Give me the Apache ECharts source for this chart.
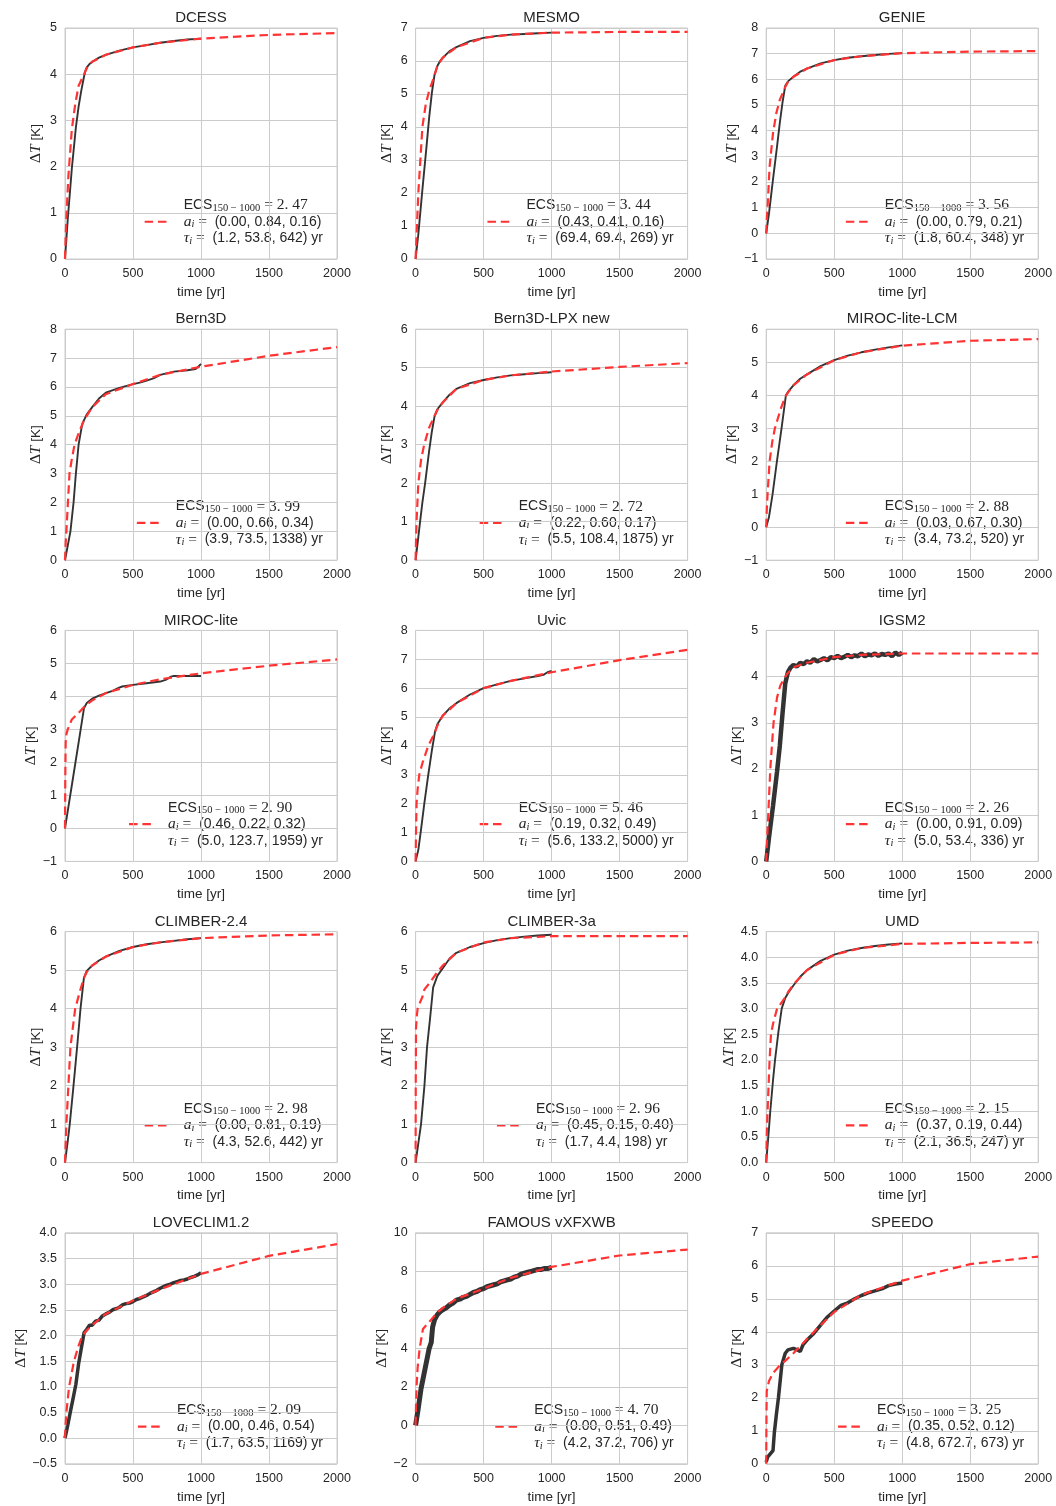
<!DOCTYPE html>
<html>
<head>
<meta charset="utf-8">
<script src="https://cdn.jsdelivr.net/npm/echarts@6/dist/echarts.min.js"></script>
<style>
  html, body { margin: 0; padding: 0; background: #fff; }
  #chart { width: 1056px; height: 1506px; }
</style>
</head>
<body>
<div id="chart"></div>
<script>
// panel titles and axis ranges
const titles = ['DCESS', 'MESMO', 'GENIE', 'Bern3D', 'Bern3D-LPX new', 'MIROC-lite-LCM',
  'MIROC-lite', 'Uvic', 'IGSM2', 'CLIMBER-2.4', 'CLIMBER-3a', 'UMD',
  'LOVECLIM1.2', 'FAMOUS vXFXWB', 'SPEEDO'];
const yMin = [0, 0, -1, 0, 0, -1, -1, 0, 0, 0, 0, 0, -0.5, -2, 0];
const yMax = [5, 7, 8, 8, 6, 6, 6, 8, 5, 6, 6, 4.5, 4, 10, 7];
const yStep = [1, 1, 1, 1, 1, 1, 1, 1, 1, 1, 1, 0.5, 0.5, 2, 1];
const xTicks = [0, 2000, 500];

// legend texts
const ecsText = ['2. 47', '3. 44', '3. 56', '3. 99', '2. 72', '2. 88', '2. 90', '5. 46',
  '2. 26', '2. 98', '2. 96', '2. 15', '2. 09', '4. 70', '3. 25'];
const aText = ['(0.00, 0.84, 0.16)', '(0.43, 0.41, 0.16)', '(0.00, 0.79, 0.21)', '(0.00, 0.66, 0.34)',
  '(0.22, 0.60, 0.17)', '(0.03, 0.67, 0.30)', '(0.46, 0.22, 0.32)', '(0.19, 0.32, 0.49)',
  '(0.00, 0.91, 0.09)', '(0.00, 0.81, 0.19)', '(0.45, 0.15, 0.40)', '(0.37, 0.19, 0.44)',
  '(0.00, 0.46, 0.54)', '(0.00, 0.51, 0.49)', '(0.35, 0.52, 0.12)'];
const tauText = ['(1.2, 53.8, 642) yr', '(69.4, 69.4, 269) yr', '(1.8, 60.4, 348) yr', '(3.9, 73.5, 1338) yr',
  '(5.5, 108.4, 1875) yr', '(3.4, 73.2, 520) yr', '(5.0, 123.7, 1959) yr', '(5.6, 133.2, 5000) yr',
  '(5.0, 53.4, 336) yr', '(4.3, 52.6, 442) yr', '(1.7, 4.4, 198) yr', '(2.1, 36.5, 247) yr',
  '(1.7, 63.5, 1169) yr', '(4.2, 37.2, 706) yr', '(4.8, 672.7, 673) yr'];

// model output [yr, K] (black) and fitted response (red dashed)
const dcessModel = [[0,0],[20,0.85],[50,1.95],[80,2.85],[100,3.3],[120,3.65],[140,3.95],[150,4.08],[160,4.15],[180,4.22],[200,4.27],[250,4.36],[300,4.42],[400,4.51],[500,4.58],[600,4.63],[700,4.68],[800,4.72],[900,4.75],[1000,4.77]];
const dcessFit = [[0,0],[5,0.5],[10,0.9],[25,1.8],[50,2.8],[75,3.35],[100,3.75],[140,4.0],[160,4.13],[200,4.27],[300,4.42],[500,4.58],[700,4.68],[1000,4.77],[1500,4.85],[2000,4.89]];

const mesmoModel = [[0,0],[20,0.75],[50,2.1],[80,3.4],[100,4.3],[120,5.05],[140,5.6],[160,5.85],[180,6.0],[200,6.1],[250,6.3],[300,6.42],[400,6.6],[500,6.7],[600,6.76],[700,6.8],[800,6.82],[900,6.84],[1000,6.86]];
const mesmoFit = [[0,0],[5,0.5],[10,1.0],[20,2.0],[35,3.0],[50,4.0],[75,4.7],[100,5.1],[130,5.45],[160,5.85],[200,6.1],[300,6.42],[500,6.7],[700,6.8],[1000,6.86],[1500,6.88],[2000,6.88]];

const genieModel = [[0,0],[20,0.75],[50,2.1],[80,3.4],[100,4.3],[120,5.1],[140,5.75],[160,5.92],[200,6.1],[250,6.3],[300,6.42],[400,6.62],[500,6.75],[600,6.84],[700,6.9],[800,6.95],[900,6.99],[1000,7.02]];
const genieFit = [[0,0],[5,0.6],[10,1.0],[25,2.6],[50,3.9],[75,4.7],[100,5.2],[140,5.7],[160,5.9],[200,6.1],[300,6.42],[500,6.75],[700,6.9],[1000,7.02],[1500,7.08],[2000,7.1]];

const bern3dModel = [[0,0],[20,0.5],[40,1.0],[63,2.0],[80,3.0],[100,4.0],[126,4.7],[140,4.85],[160,5.05],[200,5.3],[250,5.6],[300,5.8],[400,5.97],[500,6.1],[550,6.15],[600,6.22],[650,6.3],[700,6.42],[800,6.53],[900,6.58],[960,6.62],[980,6.7],[1000,6.8]];
const bern3dFit = [[0,0],[5,0.6],[10,1.0],[25,2.3],[33,3.0],[50,3.5],[70,4.0],[100,4.4],[140,4.85],[160,5.0],[200,5.3],[300,5.75],[500,6.1],[700,6.42],[1000,6.7],[1500,7.08],[2000,7.38]];

const bernLpxModel = [[0,0],[20,0.6],[33,1.0],[50,1.5],[70,2.0],[100,2.85],[120,3.35],[140,3.75],[160,3.92],[200,4.1],[250,4.3],[300,4.45],[400,4.6],[500,4.68],[600,4.75],[700,4.8],[800,4.83],[900,4.86],[1000,4.88]];
const bernLpxFit = [[0,0],[3,0.5],[7,1.0],[20,2.0],[40,2.6],[63,3.0],[100,3.45],[140,3.75],[160,3.9],[200,4.1],[300,4.45],[500,4.68],[700,4.8],[1000,4.9],[1500,5.02],[2000,5.12]];

const mirocLcmModel = [[0,0],[20,0.3],[47,1.0],[79,2.0],[113,3.0],[145,4.0],[160,4.1],[200,4.3],[250,4.5],[300,4.63],[400,4.88],[500,5.06],[600,5.2],[700,5.3],[800,5.38],[900,5.45],[1000,5.51]];
const mirocLcmFit = [[0,0],[5,0.6],[10,1.0],[25,2.0],[45,2.6],[64,3.0],[108,3.6],[140,3.95],[160,4.08],[200,4.3],[300,4.63],[500,5.06],[700,5.3],[1000,5.5],[1500,5.65],[2000,5.7]];

const mirocModel = [[0,0],[50,1.3],[100,2.6],[140,3.65],[160,3.8],[200,3.93],[250,4.02],[300,4.1],[350,4.17],[390,4.25],[420,4.3],[500,4.35],[600,4.4],[700,4.45],[740,4.5],[780,4.6],[800,4.62],[900,4.62],[1000,4.62]];
const mirocFit = [[0,0],[2,1.5],[5,2.6],[10,2.85],[20,3.0],[50,3.3],[100,3.5],[140,3.68],[200,3.88],[300,4.1],[500,4.35],[700,4.52],[1000,4.7],[1500,4.93],[2000,5.12]];

const uvicModel = [[0,0],[20,0.4],[37,1.0],[64,2.0],[93,3.0],[120,3.85],[143,4.5],[160,4.75],[200,5.05],[250,5.3],[300,5.48],[400,5.78],[500,6.0],[600,6.13],[700,6.25],[800,6.34],[900,6.42],[940,6.46],[970,6.55],[1000,6.6]];
const uvicFit = [[0,0],[3,1.0],[7,2.0],[15,2.5],[27,3.0],[50,3.4],[93,4.0],[140,4.45],[160,4.7],[200,5.05],[300,5.48],[500,6.0],[700,6.25],[1000,6.55],[1500,6.97],[2000,7.33]];

const igsmModel = [[0,0],[20,0.5],[50,1.2],[80,1.95],[100,2.5],[120,3.2],[140,3.85],[160,4.1],[180,4.2],[200,4.25],[225,4.22],[250,4.3],[275,4.27],[300,4.33],[325,4.3],[350,4.38],[375,4.33],[400,4.36],[425,4.4],[450,4.35],[475,4.42],[500,4.4],[525,4.45],[550,4.4],[575,4.43],[600,4.47],[625,4.42],[650,4.46],[675,4.44],[700,4.5],[725,4.44],[750,4.48],[775,4.46],[800,4.5],[825,4.45],[850,4.49],[875,4.47],[900,4.5],[925,4.44],[950,4.52],[975,4.47],[1000,4.52]];
const igsmFit = [[0,0],[5,0.4],[15,1.0],[30,2.0],[54,3.0],[80,3.55],[103,3.8],[140,4.0],[160,4.08],[200,4.2],[300,4.3],[500,4.42],[700,4.47],[1000,4.5],[1500,4.5],[2000,4.5]];

const climber24Model = [[0,0],[20,0.55],[35,1.0],[60,1.9],[89,3.0],[114,4.0],[139,4.8],[160,4.98],[200,5.12],[250,5.25],[300,5.35],[400,5.5],[500,5.6],[600,5.67],[700,5.72],[800,5.76],[900,5.8],[1000,5.83]];
const climber24Fit = [[0,0],[5,0.5],[10,1.0],[25,2.0],[40,3.0],[75,4.0],[114,4.5],[140,4.8],[160,4.95],[200,5.12],[300,5.35],[500,5.6],[700,5.72],[1000,5.83],[1500,5.9],[2000,5.93]];

const climber3aModel = [[0,0],[20,0.5],[40,1.0],[65,2.0],[84,3.0],[105,3.7],[129,4.55],[160,4.85],[200,5.05],[250,5.3],[300,5.45],[400,5.6],[500,5.7],[600,5.78],[700,5.83],[800,5.87],[900,5.9],[1000,5.92]];
const climber3aFit = [[0,0],[1,2.0],[3,3.5],[10,3.85],[15,4.0],[25,4.1],[50,4.3],[65,4.5],[100,4.65],[140,4.85],[160,4.95],[200,5.12],[300,5.45],[500,5.72],[700,5.83],[1000,5.88],[1500,5.88],[2000,5.88]];

const umdModel = [[0,0],[20,0.65],[30,1.0],[50,1.6],[65,2.0],[90,2.55],[114,3.0],[139,3.2],[160,3.3],[200,3.45],[250,3.62],[300,3.75],[400,3.93],[500,4.05],[600,4.13],[700,4.18],[800,4.22],[900,4.25],[1000,4.27]];
const umdFit = [[0,0],[5,0.6],[10,1.0],[25,2.0],[35,2.5],[50,2.7],[80,3.0],[100,3.07],[140,3.22],[160,3.32],[200,3.47],[300,3.75],[500,4.05],[700,4.18],[1000,4.26],[1500,4.28],[2000,4.29]];

const loveclimModel = [[0,0],[20,0.25],[40,0.52],[60,0.78],[80,1.05],[100,1.45],[120,1.75],[140,2.05],[160,2.12],[180,2.2],[200,2.2],[225,2.28],[250,2.3],[275,2.38],[300,2.42],[325,2.45],[350,2.5],[375,2.52],[400,2.55],[425,2.6],[450,2.62],[475,2.63],[500,2.66],[525,2.7],[550,2.72],[575,2.75],[600,2.78],[625,2.82],[650,2.85],[675,2.88],[700,2.92],[725,2.95],[750,2.98],[775,3.0],[800,3.03],[825,3.05],[850,3.07],[875,3.08],[900,3.1],[925,3.13],[950,3.15],[975,3.18],[1000,3.22]];
const loveclimFit = [[0,0],[5,0.3],[10,0.5],[30,1.0],[66,1.5],[100,1.8],[128,2.0],[160,2.1],[200,2.2],[300,2.42],[500,2.68],[700,2.9],[1000,3.2],[1500,3.55],[2000,3.78]];

const famousModel = [[0,0],[20,0.9],[40,1.9],[60,2.6],[80,3.3],[100,4.0],[115,4.3],[125,5.1],[140,5.5],[160,5.75],[180,5.9],[200,6.0],[225,6.1],[250,6.25],[275,6.35],[300,6.5],[325,6.55],[350,6.65],[375,6.7],[400,6.8],[425,6.9],[450,6.95],[475,7.05],[500,7.1],[525,7.2],[550,7.25],[575,7.3],[600,7.35],[625,7.45],[650,7.5],[675,7.55],[700,7.6],[725,7.7],[750,7.75],[775,7.85],[800,7.9],[825,7.95],[850,8.0],[875,8.05],[900,8.1],[925,8.1],[950,8.15],[975,8.15],[1000,8.2]];
const famousFit = [[0,0],[3,1.0],[7,2.0],[15,3.0],[30,4.0],[54,5.0],[116,5.5],[140,5.7],[160,5.85],[200,6.1],[300,6.57],[500,7.1],[700,7.66],[1000,8.23],[1500,8.82],[2000,9.13]];

const speedoModel = [[0,0.05],[10,0.2],[30,0.3],[50,0.4],[60,0.95],[75,1.5],[90,2.0],[115,3.0],[140,3.35],[160,3.45],[200,3.5],[230,3.45],[250,3.4],[270,3.6],[300,3.75],[350,3.95],[400,4.2],[450,4.45],[500,4.63],[550,4.8],[600,4.88],[650,5.0],[700,5.1],[750,5.18],[800,5.24],[850,5.3],[900,5.4],[950,5.45],[1000,5.48]];
const speedoFit = [[0,0],[2,1.5],[4,2.2],[20,2.5],[50,2.75],[100,2.98],[140,3.12],[200,3.35],[300,3.78],[400,4.2],[500,4.6],[700,5.12],[1000,5.55],[1500,6.05],[2000,6.28]];

const modelSeries = [dcessModel, mesmoModel, genieModel, bern3dModel, bernLpxModel, mirocLcmModel,
  mirocModel, uvicModel, igsmModel, climber24Model, climber3aModel, umdModel,
  loveclimModel, famousModel, speedoModel];
const fitSeries = [dcessFit, mesmoFit, genieFit, bern3dFit, bernLpxFit, mirocLcmFit,
  mirocFit, uvicFit, igsmFit, climber24Fit, climber3aFit, umdFit,
  loveclimFit, famousFit, speedoFit];

// styling: noisy runs drawn thicker
const modelWidth = [1.9, 1.9, 1.9, 1.9, 1.9, 1.9, 1.9, 1.9, 4.5, 1.9, 1.9, 1.9, 3.5, 5, 3.5];

const W = 1056, H = 1506;
const GRID_LEFT = 65, GRID_DX = 350.6, GRID_W = 272;
const GRID_TOP = 28, GRID_DY = 301.2, GRID_H = 231;
const TXT = '#262626', GRIDC = '#cccccc', RED = '#ff3333', BLACK = '#333333';
const sans = 'Liberation Sans', serif = 'Liberation Serif';

const legendRich = {
  s: { fontFamily: sans, fontSize: 14, fill: TXT, lineHeight: 16.5 },
  r: { fontFamily: serif, fontSize: 15.5, fill: TXT, lineHeight: 16.5 },
  m: { fontFamily: serif, fontStyle: 'italic', fontSize: 15.5, fill: TXT, lineHeight: 16.5 },
  sub: { fontFamily: serif, fontSize: 10.5, fill: TXT, lineHeight: 9, verticalAlign: 'bottom' },
  subi: { fontFamily: serif, fontStyle: 'italic', fontSize: 10.5, fill: TXT, lineHeight: 9, verticalAlign: 'bottom' }
};

const grids = [], xAxes = [], yAxes = [], series = [], graphics = [];

titles.forEach((name, i) => {
  const col = i % 3, row = Math.floor(i / 3);
  const left = GRID_LEFT + col * GRID_DX;
  const top = GRID_TOP + row * GRID_DY;
  const dec = yStep[i] < 1;

  grids.push({ left, top, width: GRID_W, height: GRID_H, show: true,
    borderColor: GRIDC, borderWidth: 1, backgroundColor: 'transparent' });

  xAxes.push({
    type: 'value', gridIndex: i, min: xTicks[0], max: xTicks[1], interval: xTicks[2],
    name: 'time [yr]', nameLocation: 'middle', nameGap: 26,
    nameTextStyle: { color: TXT, fontFamily: sans, fontSize: 13.5 },
    axisLine: { show: false }, axisTick: { show: false },
    axisLabel: { color: TXT, fontFamily: sans, fontSize: 12.5, margin: 8,
      formatter: v => String(v) },
    splitLine: { show: true, lineStyle: { color: GRIDC, width: 1 } }
  });

  yAxes.push({
    type: 'value', gridIndex: i, min: yMin[i], max: yMax[i], interval: yStep[i],
    name: '{d|Δ}{t|T}{s| [K]}', nameLocation: 'middle', nameGap: 21,
    nameTextStyle: { rich: {
      d: { fontFamily: serif, fontSize: 15.5, color: TXT },
      t: { fontFamily: serif, fontStyle: 'italic', fontSize: 15.5, color: TXT },
      s: { fontFamily: sans, fontSize: 13.5, color: TXT }
    } },
    axisLine: { show: false }, axisTick: { show: false },
    axisLabel: { color: TXT, fontFamily: sans, fontSize: 12.5, margin: 8,
      formatter: v => (dec ? v.toFixed(1) : String(v)).replace('-', '\u2212') },
    splitLine: { show: true, lineStyle: { color: GRIDC, width: 1 } }
  });

  series.push({
    type: 'line', xAxisIndex: i, yAxisIndex: i, data: modelSeries[i],
    showSymbol: false, symbol: 'none', z: 2,
    lineStyle: { color: BLACK, width: modelWidth[i] }
  });
  series.push({
    type: 'line', xAxisIndex: i, yAxisIndex: i, data: fitSeries[i],
    showSymbol: false, symbol: 'none', z: 3,
    lineStyle: { color: RED, width: 2.2, type: [8.5, 4.8] }
  });

  graphics.push({
    type: 'text', x: left + GRID_W / 2, y: top - 10,
    style: { text: name, align: 'center', verticalAlign: 'middle',
      font: '15px "Liberation Sans"', fill: TXT }
  });

  const legendText =
    '{s|ECS}{sub|150 \u2212 1000}{r| = ' + ecsText[i] + '}\n' +
    '{m|a}{subi|i}{r| = }{s| ' + aText[i] + '}\n' +
    '{m|τ}{subi|i}{r| = }{s| ' + tauText[i] + '}';
  graphics.push({
    type: 'group',
    right: W - (left + GRID_W - 14),
    bottom: H - (top + GRID_H - 12.5),
    children: [
      { type: 'line', shape: { x1: 0, y1: 24.75, x2: 25, y2: 24.75 },
        style: { stroke: RED, lineWidth: 2.2, lineDash: [8.5, 4.8] } },
      { type: 'text', x: 39, y: 0,
        style: { text: legendText, rich: legendRich, align: 'left', verticalAlign: 'top' } }
    ]
  });
});

const chart = echarts.init(document.getElementById('chart'), null, { renderer: 'canvas' });
chart.setOption({
  animation: false,
  backgroundColor: '#ffffff',
  grid: grids,
  xAxis: xAxes,
  yAxis: yAxes,
  series,
  graphic: graphics
});
</script>
</body>
</html>
